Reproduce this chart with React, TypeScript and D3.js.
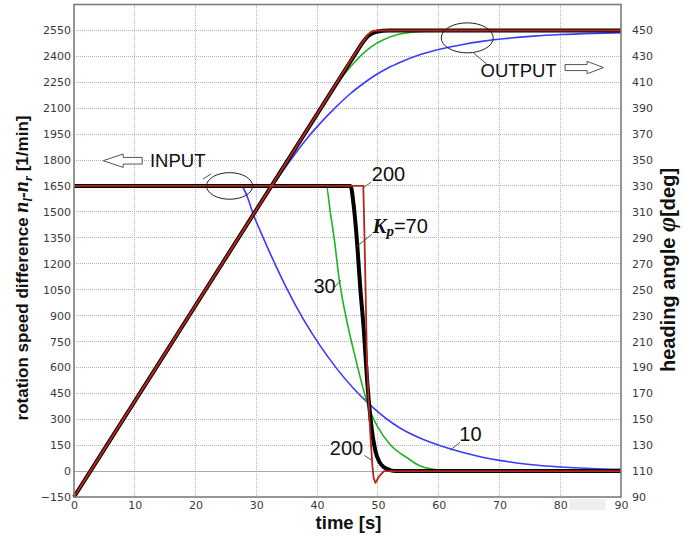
import React, { useEffect, useRef } from 'react';
import * as d3 from 'd3';

// axis ticks
const timeTicks = [0, 10, 20, 30, 40, 50, 60, 70, 80, 90];
const speedTicks = [-150, 0, 150, 300, 450, 600, 750, 900, 1050, 1200, 1350, 1500, 1650, 1800, 1950, 2100, 2250, 2400, 2550];
const angleTicks = [90, 110, 130, 150, 170, 190, 210, 230, 250, 270, 290, 310, 330, 350, 370, 390, 410, 430, 450];

// INPUT: rotation speed difference n_l - n_r  [1/min]
const blueInT = [0, 27.4, 29.9, 32.4, 35.1, 37.8, 40.6, 43.3, 46.0, 48.5, 51.5, 53.7, 57.0, 60.3, 64, 67, 70, 75, 80, 85, 90];
const blueInV = [1650, 1650, 1450, 1250, 1050, 875, 720, 590, 478, 390, 300, 248, 190, 146, 107, 82, 62, 38, 24, 15, 10];
const greenInT = [0, 41.5, 42.2, 42.8, 43.6, 44.9, 46.3, 47.4, 48.5, 49.9, 52.0, 54.8, 57.0, 60.3, 64, 90];
const greenInV = [1650, 1650, 1490, 1349, 1118, 867, 655, 501, 366, 260, 154, 77, 29, 5, 0, 0];
const blackInT = [0, 45.5, 46.0, 46.6, 47.1, 47.7, 48.2, 48.8, 49.6, 50.3, 51.0, 52.0, 53.0, 90];
const blackInV = [1650, 1650, 1542, 1311, 1060, 809, 539, 300, 115, 50, 22, 6, 0, 0];
const redInT = [0, 47.6, 47.8, 48.0, 48.2, 48.5, 48.8, 49.1, 49.3, 49.6, 50.2, 51.0, 90];
const redInV = [1650, 1650, 1350, 1000, 640, 385, 190, 30, -40, -68, -30, 0, 0];

// OUTPUT: heading angle (drawn on the left scale, right axis shows degrees)
const blueOutT = [0, 10, 20, 27.4, 30, 33, 36, 38.5, 41, 43, 45.5, 47.5, 49.3, 51.5, 53.7, 57, 60.3, 64, 67.4, 71, 75.6, 80, 85.5, 90];
const blueOutV = [-150, 404, 958, 1368, 1508, 1668, 1818, 1932, 2031, 2103, 2185, 2240, 2285, 2330, 2366, 2410, 2442, 2469, 2488, 2503, 2517, 2526, 2533, 2537];
const greenOutT = [0, 10, 20, 30, 38, 41.5, 43, 44.5, 46, 47.5, 49, 51, 53, 55.5, 58, 62, 90];
const greenOutV = [-150, 404, 958, 1512, 1955, 2149, 2228, 2298, 2360, 2414, 2458, 2498, 2523, 2539, 2546, 2550, 2550];
const blackOutT = [0, 10, 20, 30, 40, 46, 47.5, 48.3, 49.0, 49.8, 50.8, 52, 90];
const blackOutV = [-150, 404, 958, 1512, 2066, 2398, 2480, 2515, 2532, 2542, 2548, 2550, 2550];
const redOutT = [0, 10, 20, 30, 40, 47.6, 48.2, 48.7, 49.2, 50, 90];
const redOutV = [-150, 404, 958, 1512, 2066, 2487, 2518, 2537, 2547, 2550, 2550];

const BLUE = '#3b3bff';
const GREEN = '#1fb51f';
const BLACK = '#000000';
const RED = '#b3261a';

const W = 683;
const H = 537;
const L = 74, R = 621, T = 4.5, B = 497;

const SANS = '"Liberation Sans", Arial, sans-serif';
const SERIF = '"Liberation Serif", "Times New Roman", serif';
const TICKFONT = '"DejaVu Sans", Verdana, sans-serif';

export default function App() {
    const ref = useRef<SVGSVGElement>(null);

    useEffect(() => {
        const svg = d3.select(ref.current);
        svg.selectAll('*').remove();

        const x = d3.scaleLinear().domain([0, 90]).range([L, R]);
        const y = d3.scaleLinear().domain([-150, 2700]).range([B, T]);
        const yR = d3.scaleLinear().domain([90, 470]).range([B, T]);

        svg.append('rect').attr('width', W).attr('height', H).attr('fill', '#fff');

        // grid
        const grid = svg.append('g').attr('shape-rendering', 'crispEdges');
        grid.selectAll('line.v')
            .data(timeTicks.slice(1, -1))
            .join('line')
            .attr('x1', d => x(d)).attr('x2', d => x(d))
            .attr('y1', T).attr('y2', B)
            .attr('stroke', '#b4b4b4')
            .attr('stroke-dasharray', '1,1');
        grid.selectAll('line.h')
            .data(speedTicks.filter(d => d > -150))
            .join('line')
            .attr('x1', L).attr('x2', R)
            .attr('y1', d => y(d)).attr('y2', d => y(d))
            .attr('stroke', d => (d === 0 ? '#a8a8a8' : '#b4b4b4'))
            .attr('stroke-dasharray', d => (d === 0 ? null : '1,1'));

        // small grey patch under the last x labels
        svg.append('rect')
            .attr('x', x(81.5)).attr('y', B + 2)
            .attr('width', x(87.5) - x(81.5)).attr('height', 11)
            .attr('fill', '#efefef');

        // curves
        const line = d3.line<[number, number]>()
            .x(d => x(d[0]))
            .y(d => y(d[1]))
            .curve(d3.curveMonotoneX);
        const lineLin = d3.line<[number, number]>()
            .x(d => x(d[0]))
            .y(d => y(d[1]));

        const zip = (t: number[], v: number[]) => t.map((d, i) => [d, v[i]] as [number, number]);

        const series = [
            { t: blueOutT, v: blueOutV, color: BLUE, w: 1.6, gen: line },
            { t: blueInT, v: blueInV, color: BLUE, w: 1.6, gen: line },
            { t: greenOutT, v: greenOutV, color: GREEN, w: 1.6, gen: line },
            { t: greenInT, v: greenInV, color: GREEN, w: 1.6, gen: line },
            { t: blackOutT, v: blackOutV, color: BLACK, w: 4, gen: line },
            { t: blackInT, v: blackInV, color: BLACK, w: 4, gen: line },
            { t: redOutT, v: redOutV, color: RED, w: 2, gen: line },
            { t: redInT, v: redInV, color: RED, w: 1.8, gen: lineLin },
        ];

        svg.append('g')
            .selectAll('path')
            .data(series)
            .join('path')
            .attr('d', d => d.gen(zip(d.t, d.v)))
            .attr('fill', 'none')
            .attr('stroke', d => d.color)
            .attr('stroke-width', d => d.w)
            .attr('stroke-linejoin', 'round');

        // frame
        svg.append('rect')
            .attr('x', L).attr('y', T)
            .attr('width', R - L).attr('height', B - T)
            .attr('fill', 'none')
            .attr('stroke', '#7c7c7c')
            .attr('stroke-width', 1.6);

        // axes
        const styleAxis = (g: any) => {
            g.select('.domain').remove();
            g.selectAll('text')
                .attr('font-family', TICKFONT)
                .attr('font-size', 11)
                .attr('fill', '#3a3a3a');
        };
        svg.append('g')
            .attr('transform', `translate(${L},0)`)
            .call(d3.axisLeft(y).tickValues(speedTicks).tickSize(0).tickPadding(3).tickFormat(d3.format('d')))
            .call(styleAxis);
        svg.append('g')
            .attr('transform', `translate(${R},0)`)
            .call(d3.axisRight(yR).tickValues(angleTicks).tickSize(0).tickPadding(11).tickFormat(d3.format('d')))
            .call(styleAxis);
        svg.append('g')
            .attr('transform', `translate(0,${B})`)
            .call(d3.axisBottom(x).tickValues(timeTicks).tickSize(0).tickPadding(4).tickFormat(d3.format('d')))
            .call(styleAxis);

        // axis titles
        svg.append('text')
            .attr('x', (L + R) / 2 + 1).attr('y', 529)
            .attr('text-anchor', 'middle')
            .attr('font-family', SANS).attr('font-weight', 'bold').attr('font-size', 18.5)
            .attr('fill', '#111')
            .text('time [s]');

        const lt = svg.append('text')
            .attr('transform', 'translate(28,268) rotate(-90)')
            .attr('text-anchor', 'middle')
            .attr('font-family', SANS).attr('font-weight', 'bold').attr('font-size', 17)
            .attr('fill', '#111');
        lt.append('tspan').text('rotation speed difference  ');
        lt.append('tspan').attr('font-family', SERIF).attr('font-style', 'italic').attr('font-size', 20).text('n');
        lt.append('tspan').attr('font-family', SERIF).attr('font-style', 'italic').attr('font-size', 13).attr('dy', 4).text('l');
        lt.append('tspan').attr('font-size', 17).attr('dy', -4).text('-');
        lt.append('tspan').attr('font-family', SERIF).attr('font-style', 'italic').attr('font-size', 20).text('n');
        lt.append('tspan').attr('font-family', SERIF).attr('font-style', 'italic').attr('font-size', 13).attr('dy', 4).text('r');
        lt.append('tspan').attr('dy', -4).text(' [1/min]');

        const rt = svg.append('text')
            .attr('transform', 'translate(675,270) rotate(-90)')
            .attr('text-anchor', 'middle')
            .attr('font-family', SANS).attr('font-weight', 'bold').attr('font-size', 20)
            .attr('fill', '#111');
        rt.append('tspan').text('heading angle ');
        rt.append('tspan').attr('font-family', SERIF).attr('font-style', 'italic').attr('font-size', 26).text('φ');
        rt.append('tspan').text('[deg]');

        // annotations
        const ann = svg.append('g');
        const leader = (t1: number, v1: number, t2: number, v2: number) =>
            ann.append('line')
                .attr('x1', x(t1)).attr('y1', y(v1))
                .attr('x2', x(t2)).attr('y2', y(v2))
                .attr('stroke', '#555').attr('stroke-width', 1);
        const label = (t: number, v: number, s: string) =>
            ann.append('text')
                .attr('x', x(t)).attr('y', y(v))
                .attr('font-family', SANS).attr('font-size', 20)
                .attr('fill', '#111')
                .text(s);

        // INPUT
        ann.append('ellipse')
            .attr('cx', x(25.6)).attr('cy', y(1650))
            .attr('rx', 23).attr('ry', 13.3)
            .attr('fill', 'none').attr('stroke', '#222').attr('stroke-width', 1);
        leader(21.2, 1690, 22.6, 1720);
        ann.append('text')
            .attr('x', x(12.5)).attr('y', y(1758))
            .attr('font-family', SANS).attr('font-size', 18.5).attr('fill', '#111')
            .text('INPUT');
        const ax = x(4.8), ay = y(1796);
        ann.append('path')
            .attr('d', `M${ax},${ay} l20,-6.7 v3.4 h19 v6.6 h-19 v3.4 z`)
            .attr('fill', '#fff').attr('stroke', '#555').attr('stroke-width', 1);

        // OUTPUT
        ann.append('ellipse')
            .attr('cx', x(64.7)).attr('cy', y(2507))
            .attr('rx', 26).attr('ry', 15)
            .attr('fill', 'none').attr('stroke', '#222').attr('stroke-width', 1);
        leader(65.7, 2420, 67.9, 2356);
        ann.append('text')
            .attr('x', x(66.9)).attr('y', y(2279))
            .attr('font-family', SANS).attr('font-size', 18.5).attr('fill', '#111')
            .text('OUTPUT');
        const bx = x(80.8), by = y(2335);
        ann.append('path')
            .attr('d', `M${bx},${by - 3} h22 v-3.2 l16.5,6.2 l-16.5,6.2 v-3.2 h-22 z`)
            .attr('fill', '#fff').attr('stroke', '#555').attr('stroke-width', 1);

        // Kp labels
        leader(47.6, 1640, 48.9, 1672);
        label(49.0, 1680, '200');

        leader(46.6, 1302, 49.0, 1370);
        const kp = ann.append('text')
            .attr('x', x(49.1)).attr('y', y(1379))
            .attr('font-family', SANS).attr('font-size', 20)
            .attr('fill', '#111');
        kp.append('tspan').attr('font-family', SERIF).attr('font-style', 'italic').attr('font-weight', 'bold').attr('font-size', 21).text('K');
        kp.append('tspan').attr('font-family', SERIF).attr('font-style', 'italic').attr('font-weight', 'bold').attr('font-size', 15).attr('dy', 3).text('p');
        kp.append('tspan').attr('dy', -3).text('=70');

        leader(43.9, 1105, 42.9, 1065);
        label(39.4, 1029, '30');

        leader(48.9, 64, 47.8, 90);
        label(42.1, 93, '200');

        leader(61.9, 122, 63.5, 165);
        label(63.4, 174, '10');
    }, []);

    return (
        <svg
            ref={ref}
            width={W}
            height={H}
            style={{ position: 'absolute', left: 0, top: 0, display: 'block' }}
        />
    );
}
